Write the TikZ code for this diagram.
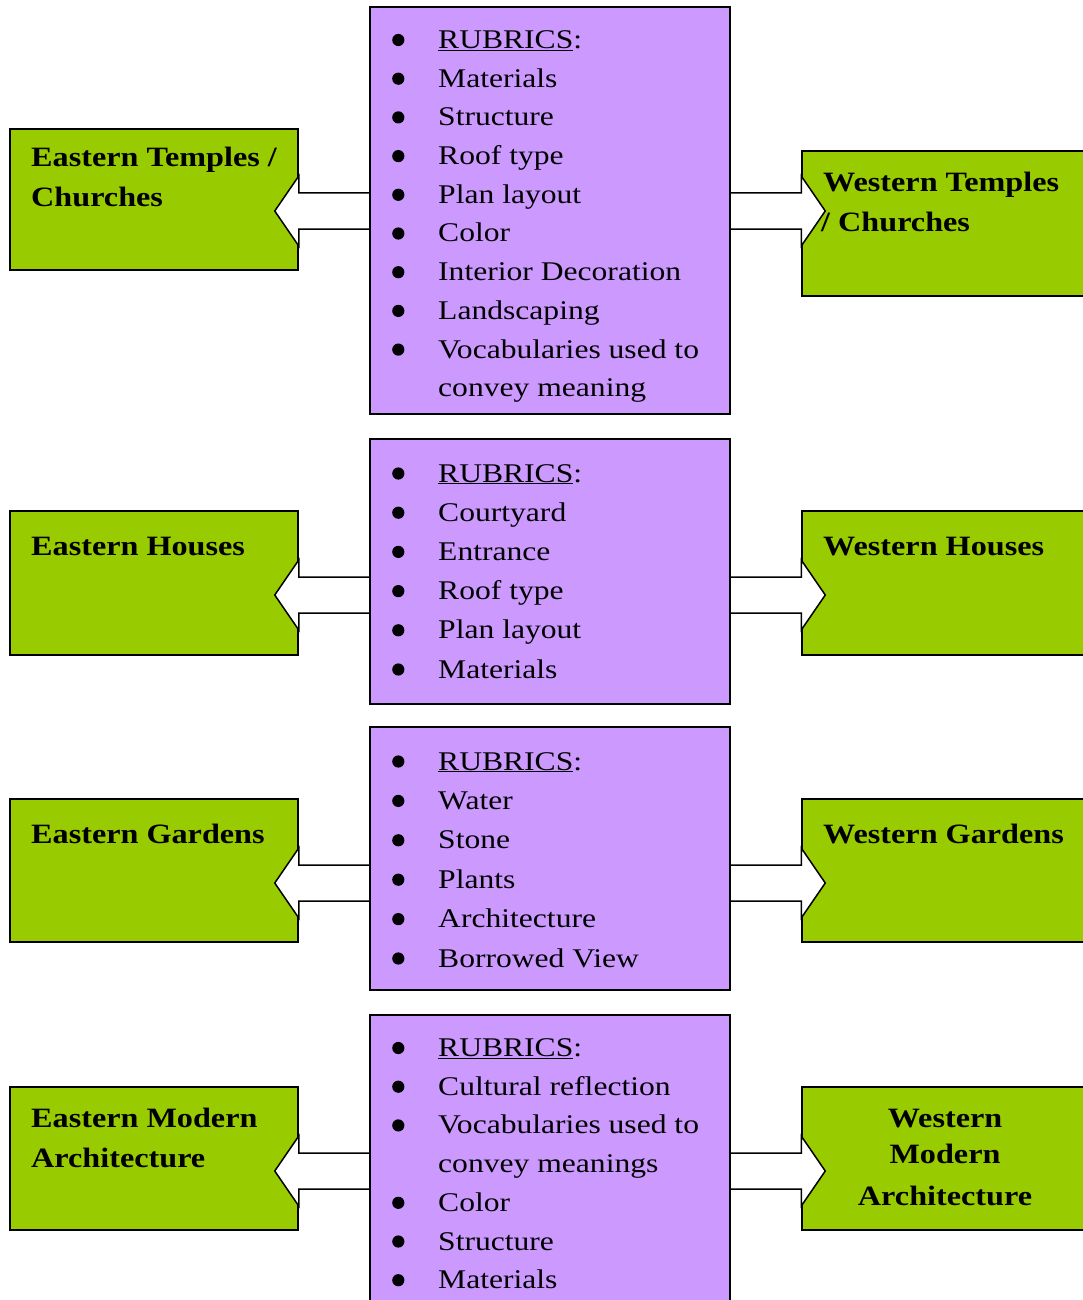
\documentclass[tikz,border=0pt]{standalone}
\usepackage{fontspec}
\setmainfont{Liberation Serif}[FakeStretch=1.17, BoldFeatures={FakeStretch=1.15}]
\usepackage{xcolor}
\usetikzlibrary{calc}
\definecolor{rubricpurple}{HTML}{CC99FF}
\definecolor{groupgreen}{HTML}{99CC00}
\newcommand{\rubricbox}[3]{%
  \node[rubric, minimum height={#3-#2}] (#1) at (550,{(#2+#3)/2}) {};}
\newcommand{\groupbox}[4]{%
  \node[group, minimum height={#4-#3}] (#1) at (#2,{(#3+#4)/2}) {};}
\newcommand{\toleft}[3]{%
  \draw[link] ([xshift=6pt]#1.west |- 0,#3-18) -- (#2.east |- 0,#3-18)
    -- (#2.east |- 0,#3-35) -- ([xshift=-24pt]#2.east |- 0,#3)
    -- (#2.east |- 0,#3+35) -- (#2.east |- 0,#3+18)
    -- ([xshift=6pt]#1.west |- 0,#3+18);}
\newcommand{\toright}[3]{%
  \draw[link] ([xshift=-6pt]#1.east |- 0,#3-18) -- (#2.west |- 0,#3-18)
    -- (#2.west |- 0,#3-35) -- ([xshift=24pt]#2.west |- 0,#3)
    -- (#2.west |- 0,#3+35) -- (#2.west |- 0,#3+18)
    -- ([xshift=-6pt]#1.east |- 0,#3+18);}
\newcommand{\dotmark}{\raisebox{2.4pt}{\tikz\fill (0,0) circle (6.1pt);}}
\newcommand{\itm}[1]{\dotmark & #1}

\begin{document}
\begin{tikzpicture}[x=1pt, y=-1pt,
  rubric/.style={draw, fill=rubricpurple, line width=1.5pt, minimum width=360, inner sep=0pt},
  group/.style={draw, fill=groupgreen, line width=1.5pt, minimum width=288, inner sep=0pt},
  link/.style={draw, fill=white, line width=1.5pt, line join=miter},
  listtext/.style={anchor=base west, inner sep=0pt, font=\fontsize{27}{#1}\selectfont},
  listtext/.default=38.7,
  grouptext/.style={anchor=base west, inner sep=0pt, align=left, font=\fontsize{28}{40}\selectfont\bfseries}]
\useasboundingbox (0,0) rectangle (1082,1300);

% ---- the green boxes ----
\groupbox{et}{154}{129}{270}
\groupbox{eh}{154}{511}{655}
\groupbox{eg}{154}{799}{942}
\groupbox{em}{154}{1087}{1230}
\begin{scope}[group/.append style={minimum width=290}]
\groupbox{wt}{947}{151}{296}
\groupbox{wh}{947}{511}{655}
\groupbox{wg}{947}{799}{942}
\groupbox{wm}{947}{1087}{1230}
\end{scope}

% ---- the arrows, drawn under the purple boxes ----
\rubricbox{r1}{7}{414}
\rubricbox{r2}{439}{704}
\rubricbox{r3}{727}{990}
\rubricbox{r4}{1015}{1310}
\toleft{r1}{et}{211}
\toright{r1}{wt}{211}
\toleft{r2}{eh}{595}
\toright{r2}{wh}{595}
\toleft{r3}{eg}{883}
\toright{r3}{wg}{883}
\toleft{r4}{em}{1171}
\toright{r4}{wm}{1171}
\rubricbox{r1}{7}{414}
\rubricbox{r2}{439}{704}
\rubricbox{r3}{727}{990}
\rubricbox{r4}{1015}{1310}

% ---- the rubrics ----
\node[listtext] (l1) at (392,48.5) {\begin{tabular}[t]{@{}p{46pt}@{}l@{}}
  \itm{\underline{RUBRICS}:}\\ \itm{Materials}\\ \itm{Structure}\\
  \itm{Roof type}\\ \itm{Plan layout}\\ \itm{Color}\\
  \itm{Interior Decoration}\\ \itm{Landscaping}\\
  \itm{Vocabularies used to}\\ & convey meaning
\end{tabular}};
\node[listtext=39.2] (l2) at (392,482) {\begin{tabular}[t]{@{}p{46pt}@{}l@{}}
  \itm{\underline{RUBRICS}:}\\ \itm{Courtyard}\\ \itm{Entrance}\\
  \itm{Roof type}\\ \itm{Plan layout}\\ \itm{Materials}
\end{tabular}};
\node[listtext=39.4] (l3) at (392,770) {\begin{tabular}[t]{@{}p{46pt}@{}l@{}}
  \itm{\underline{RUBRICS}:}\\ \itm{Water}\\ \itm{Stone}\\
  \itm{Plants}\\ \itm{Architecture}\\ \itm{Borrowed View}
\end{tabular}};
\node[listtext] (l4) at (392,1056.5) {\begin{tabular}[t]{@{}p{46pt}@{}l@{}}
  \itm{\underline{RUBRICS}:}\\ \itm{Cultural reflection}\\
  \itm{Vocabularies used to}\\ & convey meanings\\ \itm{Color}\\
  \itm{Structure}\\ \itm{Materials}
\end{tabular}};

% ---- the group names (placed by their last line) ----
\node[grouptext] (n1) at (31,207) {Eastern Temples /\\Churches};
\node[grouptext] (n2) at (31,555) {Eastern Houses};
\node[grouptext] (n3) at (31,843) {Eastern Gardens};
\node[grouptext] (n4) at (31,1167) {Eastern Modern\\Architecture};
\node[grouptext] (n5) at (821,231) {\hspace*{2pt}Western Temples\\/ Churches};
\node[grouptext] (n6) at (823,555) {Western Houses};
\node[grouptext] (n7) at (823,843) {Western Gardens};
\node[grouptext, align=center, anchor=base] (n8) at (945,1205) {Western\\[-4pt]Modern\\[2pt]Architecture};

\end{tikzpicture}
\end{document}
